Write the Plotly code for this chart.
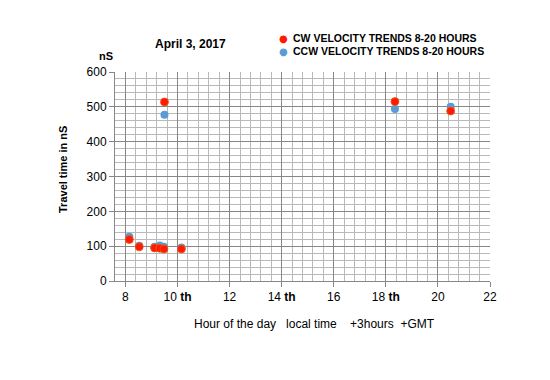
import plotly.graph_objects as go

# Data
cw_hours = [8.15, 8.53, 9.12, 9.32, 9.48, 9.50, 10.15, 18.35, 20.49]
cw_ns = [119, 98, 95, 94, 92, 514, 92, 515, 488]
ccw_hours = [8.15, 8.53, 9.12, 9.32, 9.48, 9.50, 10.15, 18.35, 20.49]
ccw_ns = [127, 101, 98, 102, 98, 477, 96, 494, 500]

series_names = ["CW VELOCITY TRENDS 8-20 HOURS", "CCW VELOCITY TRENDS 8-20 HOURS"]
series_colors = ["#ff1a00", "#5b9bd5"]

x_tick_vals = [8, 10, 12, 14, 16, 18, 20, 22]
x_tick_text = ["8", "10 <b>th</b>", "12", "14 <b>th</b>", "16", "18 <b>th</b>", "20", "22"]
y_tick_vals = [0, 100, 200, 300, 400, 500, 600]

FONT = "Liberation Sans, Arial, sans-serif"
L, R, T, B, W, H = 115, 60, 72, 99, 550, 380
PW, PH = W - L - R, H - T - B


def px(x):
    return (x - L) / PW


def py(y):
    return (H - B - y) / PH


fig = go.Figure()
fig.add_trace(go.Scatter(
    x=ccw_hours, y=ccw_ns, mode="markers", name=series_names[1],
    marker=dict(size=8, color=series_colors[1], line=dict(width=0)),
))
fig.add_trace(go.Scatter(
    x=cw_hours, y=cw_ns, mode="markers", name=series_names[0],
    marker=dict(size=8, color=series_colors[0], line=dict(width=0.8, color="#e85a1a")),
))

annotations = [
    dict(text="<b>April 3, 2017</b>", x=px(190), y=py(44), font=dict(size=12)),
    dict(text="<b>nS</b>", x=px(106), y=py(56), font=dict(size=11)),
    dict(text="<b>Travel time in nS</b>", x=px(63), y=py(170), textangle=-90,
         font=dict(size=11)),
    dict(text="Hour of the day &nbsp; local time &nbsp; &nbsp;+3hours &nbsp;+GMT",
         x=px(314), y=py(324), font=dict(size=12)),
]
# legend (manual, to match the compact original layout)
for i, (name, col) in enumerate(zip(series_names, series_colors)):
    yy = 38 + 13 * i
    annotations.append(dict(text="●", x=px(283), y=py(yy), font=dict(size=10, color=col,
                                                                      family="DejaVu Sans")))
    annotations.append(dict(text="<b>" + name + "</b>", x=px(291), y=py(yy), xanchor="left",
                            font=dict(size=10.5)))
for a in annotations:
    a.setdefault("xanchor", "center")
    a.update(xref="paper", yref="paper", yanchor="middle", showarrow=False)

fig.update_layout(
    width=W, height=H,
    margin=dict(l=L, r=R, t=T, b=B),
    paper_bgcolor="white", plot_bgcolor="white",
    font=dict(family=FONT, size=12, color="black"),
    showlegend=False,
    xaxis=dict(
        range=[7.6, 22], tickmode="array", tickvals=x_tick_vals, ticktext=x_tick_text,
        showgrid=True, gridcolor="#878787", gridwidth=1,
        minor=dict(dtick=0.4, tick0=8, showgrid=True, gridcolor="#b9b9b9", gridwidth=1,
                   ticks=""),
        showline=True, linecolor="#878787", linewidth=1,
        ticks="outside", ticklen=5, tickcolor="#878787",
        tickfont=dict(size=12), zeroline=False, fixedrange=True,
    ),
    yaxis=dict(
        range=[0, 600], tickmode="array", tickvals=y_tick_vals,
        showgrid=True, gridcolor="#878787", gridwidth=1,
        minor=dict(dtick=20, showgrid=True, gridcolor="#b9b9b9", gridwidth=1, ticks=""),
        showline=True, linecolor="#878787", linewidth=1,
        ticks="outside", ticklen=5, tickcolor="#878787",
        tickfont=dict(size=12), zeroline=False, fixedrange=True,
    ),
    annotations=annotations,
)

fig.write_html("out.html", config={"displayModeBar": False},
               post_script="document.body.style.margin='0';")
